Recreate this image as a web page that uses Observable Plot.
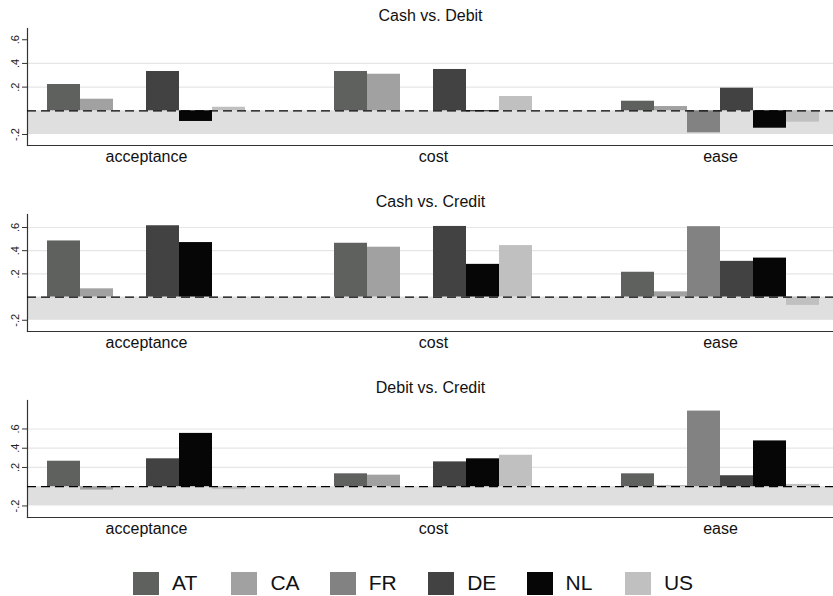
<!DOCTYPE html>
<html>
<head>
<meta charset="utf-8">
<script src="https://cdn.jsdelivr.net/npm/d3@7"></script>
<script src="https://cdn.jsdelivr.net/npm/@observablehq/plot@0.6"></script>
<style>
  body { margin: 0; background: #fff; font-family: "Liberation Sans", Helvetica, Arial, sans-serif; }
  #chart { width: 833px; }
  .panel { position: relative; width: 833px; height: 186px; }
  .panel svg { position: absolute; left: 0; top: 0; }
  .legend { display: flex; padding-left: 133px; margin-top: 13px; }
  .legend .item { display: flex; align-items: center; width: 98.4px; }
  .legend .sw { width: 26px; height: 23px; margin-right: 13px; }
  .legend .lb { font-size: 21px; color: #111; }
</style>
</head>
<body>
<div id="chart"></div>
<script>
// Countries, attributes and panels
const countries = ["AT", "CA", "FR", "DE", "NL", "US"];
const categories = ["acceptance", "cost", "ease"];
const countryColors = ["#5f615f", "#a1a1a1", "#828282", "#424242", "#060606", "#c0c0c0"];
const panelTitles = ["Cash vs. Debit", "Cash vs. Credit", "Debit vs. Credit"];

// Coefficients: one row per attribute, one value per country (AT, CA, FR, DE, NL, US)
const cashDebit = [
  [0.222, 0.098, null, 0.332, -0.09, 0.03],
  [0.332, 0.309, null, 0.349, -0.008, 0.121],
  [0.081, 0.036, -0.186, 0.191, -0.147, -0.096]
];
const cashCredit = [
  [0.484, 0.071, null, 0.615, 0.47, null],
  [0.464, 0.43, null, 0.609, 0.282, 0.444],
  [0.214, 0.045, 0.607, 0.308, 0.336, -0.072]
];
const debitCredit = [
  [0.265, -0.035, null, 0.29, 0.554, -0.03],
  [0.134, 0.12, null, 0.258, 0.29, 0.327],
  [0.134, 0.01, 0.786, 0.114, 0.476, 0.024]
];

// Axis settings per panel
const yDomains = [[-0.293, 0.695], [-0.297, 0.712], [-0.32, 0.896]];
const yTicks = [-0.2, 0.2, 0.4, 0.6];
const gridTicks = [[0.2, 0.4], [0.2, 0.4, 0.6], [0.2, 0.4, 0.6]];
const bandRange = [-0.2, 0];

const panels = [cashDebit, cashCredit, debitCredit];
const fmt = d => String(d).replace("0.", ".");
const font = "'Liberation Sans', Helvetica, Arial, sans-serif";

// Shared frame geometry so the three layers of a panel line up
const base = {
  width: 833, height: 186,
  marginTop: 28, marginBottom: 41, marginLeft: 27, marginRight: 0,
  style: {fontFamily: font, background: "transparent", overflow: "visible"}
};

const root = document.getElementById("chart");

panels.forEach((values, p) => {
  const rows = [];
  categories.forEach((cat, i) => {
    countries.forEach((c, j) => {
      const v = values[i][j];
      if (v != null) rows.push({cat, country: c, value: v});
    });
  });

  const panel = document.createElement("div");
  panel.className = "panel";

  // Background: grid, shaded band below zero, axis lines and y ticks
  const back = Plot.plot({
    ...base,
    y: {domain: yDomains[p]},
    marks: [
      Plot.ruleY(gridTicks[p], {stroke: "#e6e6e6", strokeWidth: 1.2}),
      Plot.rect([0], {y1: bandRange[0], y2: bandRange[1], fill: "#dfdfdf"}),
      Plot.frame({anchor: "left", stroke: "#333", strokeWidth: 1.2}),
      Plot.frame({anchor: "bottom", stroke: "#333", strokeWidth: 1.2}),
      Plot.axisY({ticks: yTicks, tickFormat: fmt, tickRotate: -90, tickSize: 5, tickPadding: 4,
                  fontSize: 11, label: null, stroke: "#333", fill: "#222"})
    ]
  });

  // Bars, grouped by attribute
  const bars = Plot.plot({
    ...base,
    fx: {domain: categories, paddingInner: 0.3043, paddingOuter: 0.0539, align: 0.58},
    x: {domain: countries, padding: 0, axis: null},
    y: {domain: yDomains[p], axis: null},
    color: {domain: countries, range: countryColors},
    marks: [
      Plot.barY(rows, {fx: "cat", x: "country", y: "value", fill: "country"}),
      Plot.axisFx({anchor: "bottom", tickSize: 0, tickPadding: 5, fontSize: 16, label: null, fill: "#111"})
    ]
  });

  // Foreground: dashed zero line and panel title
  const front = Plot.plot({
    ...base,
    y: {domain: yDomains[p], axis: null},
    marks: [
      Plot.ruleY([0], {stroke: "#000", strokeWidth: 1.3, strokeDasharray: "9,5"}),
      Plot.text([panelTitles[p]], {text: d => d, frameAnchor: "top", lineAnchor: "middle", dy: -13,
                                   fontSize: 16, fill: "#111"})
    ]
  });

  panel.appendChild(back);
  panel.appendChild(bars);
  panel.appendChild(front);
  root.appendChild(panel);
});

// Legend
const legend = document.createElement("div");
legend.className = "legend";
countries.forEach((c, i) => {
  const item = document.createElement("div");
  item.className = "item";
  const sw = document.createElement("span");
  sw.className = "sw";
  sw.style.background = countryColors[i];
  const lb = document.createElement("span");
  lb.className = "lb";
  lb.textContent = c;
  item.appendChild(sw);
  item.appendChild(lb);
  legend.appendChild(item);
});
root.appendChild(legend);
</script>
</body>
</html>
